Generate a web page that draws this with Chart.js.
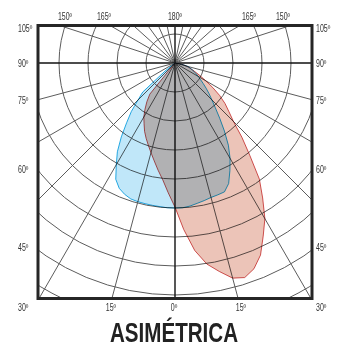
<!DOCTYPE html>
<html lang="es">
<head>
<meta charset="UTF-8">
<title>Asimétrica</title>
<script src="https://cdn.jsdelivr.net/npm/chart.js"></script>
<style>
  body { margin: 0; background: #fff; }
  #wrap { position: relative; width: 337px; height: 346px; }
  #wrap canvas { position: absolute; left: 0; top: 0; }
  .lbl {
    position: absolute;
    font: 10px "Liberation Sans", Arial, sans-serif;
    line-height: 10px;
    color: #333;
    white-space: nowrap;
  }
  .lbl.mid { transform: translateX(-50%) scaleX(0.7); }
  .lbl.side { transform: scaleX(0.7); transform-origin: left center; }
  .title {
    position: absolute;
    left: 174px; top: 319px;
    font: bold 28px "Liberation Sans", Arial, sans-serif;
    line-height: 28px;
    color: #222;
    white-space: nowrap;
    transform: translateX(-50%) scaleX(0.735);
  }
</style>
</head>
<body>
<div id="wrap">
  <canvas id="polar" width="337" height="346"></canvas>
</div>

<script>
// gamma angle (clockwise from the top of the diagram), every 3 degrees
const lobeAngles = [96, 99, 102, 105, 108, 111, 114, 117, 120, 123, 126, 129, 132, 135, 138,
  141, 144, 147, 150, 153, 156, 159, 162, 165, 168, 171, 174, 177, 180, 183, 186, 189, 192,
  195, 198, 201, 204, 207, 210, 213, 216, 219, 222, 225, 228, 231, 234, 237];

// intensity in circle units (blue plane)
const blueCurve = [0, 0.15, 0.3, 0.45, 0.55, 0.63, 0.72, 0.82, 0.93, 1.05, 1.2, 1.38, 1.58, 1.8, 2.08,
  2.45, 2.9, 3.38, 3.8, 4.17, 4.55, 4.76, 4.78, 4.8, 4.85, 4.9, 4.96, 5.0, 5.0, 5.0, 4.98, 4.97, 4.96,
  4.95, 4.93, 4.85, 4.73, 4.5, 4.05, 3.65, 3.15, 2.65, 2.25, 1.8, 1.5, 0.45, 0, 0];

// intensity in circle units (red plane)
const redCurve = [0, 0.2, 0.3, 0.4, 0.5, 0.62, 0.78, 0.98, 1.22, 1.55, 1.9, 2.22, 2.5, 2.85, 3.45,
  4.1, 4.95, 5.55, 6.2, 6.7, 7.25, 7.6, 7.78, 7.68, 7.35, 7.02, 6.5, 5.75, 4.97, 4.48, 4.05, 3.74, 3.45,
  3.2, 2.98, 2.78, 2.58, 2.35, 2.15, 1.9, 1.65, 1.38, 0, 0, 0, 0, 0, 0];

const topTicks = ['150º', '165º', '180º', '165º', '150º'];
const sideTicks = ['105º', '90º', '75º', '60º', '45º', '30º'];
const bottomTicks = ['15º', '0º', '15º'];

// label placement
const topX = [65, 104, 175, 249, 283];
const sideY = [29, 63.5, 100.5, 170, 248, 308];
const bottomX = [111, 174, 241];

const step = 3;
const gammaLabels = [];
for (let a = 0; a < 360; a += step) gammaLabels.push(a);

function toSeries(values) {
  const out = gammaLabels.map(() => 0);
  lobeAngles.forEach((a, i) => { out[a / step] = values[i]; });
  return out;
}

function angleLineStyle(ctx) {
  const a = ctx.index * step;
  if (a % 90 === 0) return { color: '#111', width: 1.4 };
  if (a > 90 && a < 270) {
    if (a % 15 === 0) return { color: '#5c5c5c', width: 1 };
  } else if (a % 12 === 0 && a !== 84 && a !== 276) {
    return { color: '#5c5c5c', width: 1 };
  }
  return { color: 'rgba(0,0,0,0)', width: 0 };
}

const boxClip = {
  id: 'boxClip',
  beforeDraw(chart) {
    const a = chart.chartArea, c = chart.ctx;
    c.save();
    c.beginPath();
    c.rect(a.left, a.top, a.right - a.left, a.bottom - a.top);
    c.clip();
  },
  beforeDatasetsDraw(chart) {
    chart.ctx.globalCompositeOperation = 'multiply';
  },
  afterDatasetsDraw(chart) {
    const a = chart.chartArea, c = chart.ctx;
    c.restore();
    c.save();
    c.lineWidth = 3;
    c.strokeStyle = '#262626';
    c.strokeRect(a.left, a.top + 0.5, a.right - a.left, a.bottom - a.top);
    c.restore();
  }
};

new Chart(document.getElementById('polar'), {
  type: 'radar',
  data: {
    labels: gammaLabels,
    datasets: [
      {
        label: 'C0-C180',
        data: toSeries(blueCurve),
        backgroundColor: 'rgb(192,231,249)',
        borderColor: 'rgb(40,175,228)',
        borderWidth: 1,
        fill: true
      },
      {
        label: 'C90-C270',
        data: toSeries(redCurve),
        backgroundColor: 'rgb(236,196,184)',
        borderColor: 'rgb(212,86,86)',
        borderWidth: 1,
        fill: true
      }
    ]
  },
  options: {
    responsive: false,
    animation: false,
    layout: { padding: { left: 38, top: 25, right: 25, bottom: 48 } },
    elements: {
      point: { radius: 0, hitRadius: 0 },
      line: { tension: 0 }
    },
    plugins: {
      legend: { display: false },
      tooltip: { enabled: false }
    },
    scales: {
      r: {
        min: 0,
        max: 10,
        ticks: { display: false, stepSize: 1 },
        pointLabels: { display: false },
        grid: { circular: true, color: '#5c5c5c', lineWidth: 1 },
        angleLines: {
          color: ctx => angleLineStyle(ctx).color,
          lineWidth: ctx => angleLineStyle(ctx).width
        },
        // pole of the diagram sits on the 90º line, 29px per circle
        afterFit: scale => {
          scale.xCenter = 175;
          scale.yCenter = 63;
          scale.drawingArea = 290;
        }
      }
    }
  },
  plugins: [boxClip]
});

// axis texts
const wrap = document.getElementById('wrap');
function addLabel(text, cls, x, y) {
  const d = document.createElement('div');
  d.className = 'lbl ' + cls;
  d.textContent = text;
  d.style.left = x + 'px';
  d.style.top = (y - 5) + 'px';
  wrap.appendChild(d);
}
topTicks.forEach((t, i) => addLabel(t, 'mid', topX[i], 16.5));
sideTicks.forEach((t, i) => {
  addLabel(t, 'side', 18, sideY[i]);
  addLabel(t, 'side', 316, sideY[i]);
});
bottomTicks.forEach((t, i) => addLabel(t, 'mid', bottomX[i], 308));

const title = document.createElement('div');
title.className = 'title';
title.textContent = 'ASIMÉTRICA';
wrap.appendChild(title);
</script>
</body>
</html>
